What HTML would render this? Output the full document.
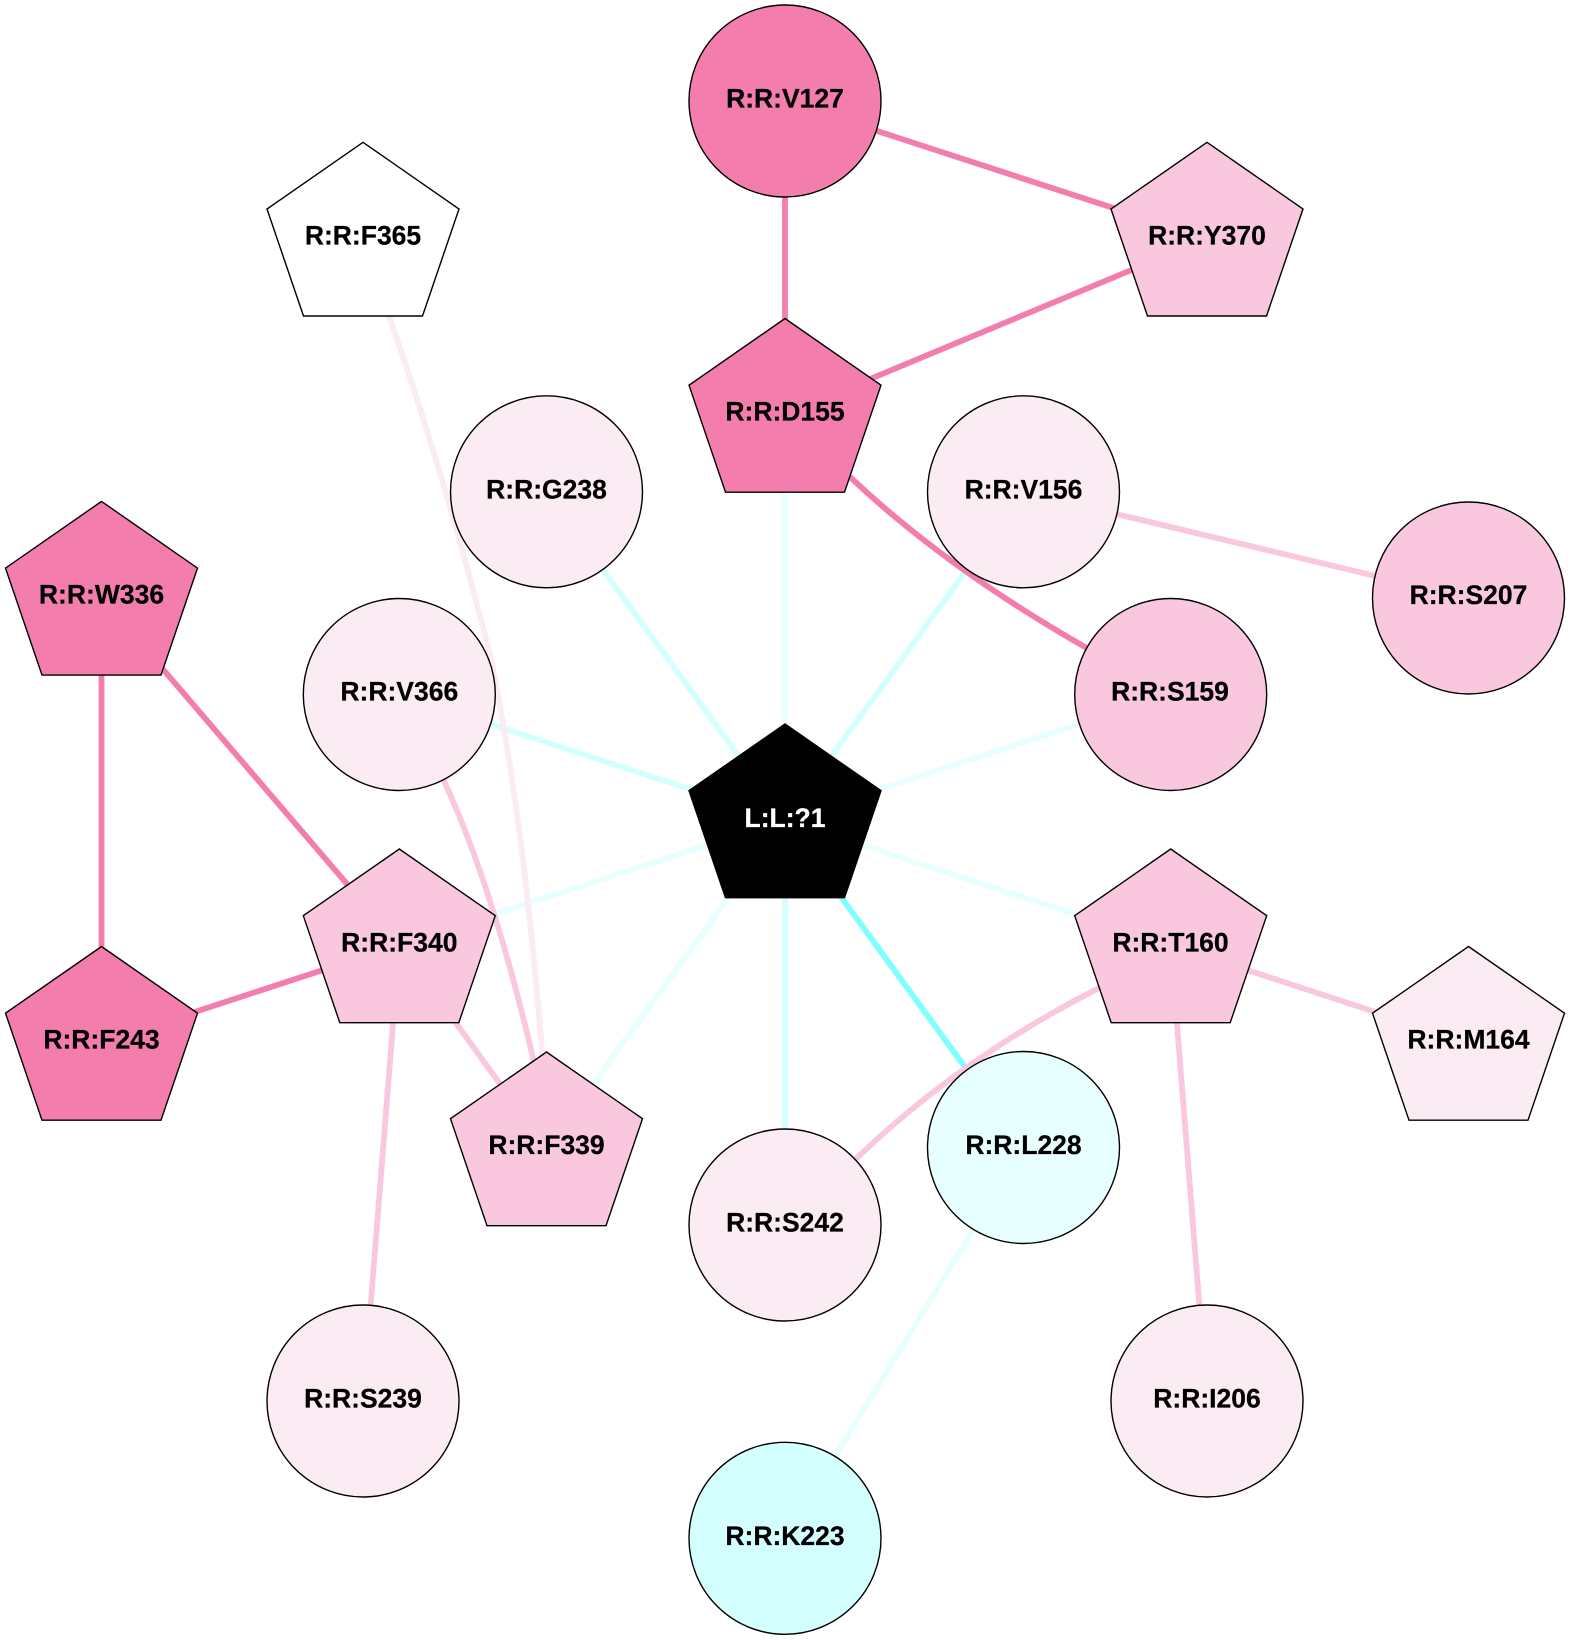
<!DOCTYPE html>
<html>
<head>
<meta charset="utf-8">
<style>
html,body{margin:0;padding:0;background:#fff;width:1570px;height:1640px;overflow:hidden}
svg{display:block}
text{font-family:"Liberation Sans",Arial,sans-serif;font-weight:bold;font-size:26.5px;text-anchor:middle;fill:#000;stroke:#000;stroke-width:.25}
.e{fill:none;stroke-width:5.8}
.n{stroke:#000;stroke-width:1.4}
.p1{stroke:#F37DAD}.p2{stroke:#F9C8DE}.p3{stroke:#FBEBF3}
.c0{stroke:#7FFFFF}.c1{stroke:#D4FFFF}.c2{stroke:#E8FFFF}
</style>
</head>
<body>
<svg width="1570" height="1640" viewBox="0 0 1570 1640" xmlns="http://www.w3.org/2000/svg">
<rect width="1570" height="1640" fill="#fff"/>
<g class="edges">
<path class="e c1" d="M785 820L546.5 491.8"/>
<path class="e c1" d="M785 820L1023.5 491.8"/>
<path class="e c2" d="M785 820L785 414.5"/>
<path class="e c1" d="M785 820L399.3 694.5"/>
<path class="e c2" d="M785 820L1170.7 694.5"/>
<path class="e c2" d="M785 820L399.3 945"/>
<path class="e c2" d="M785 820L1170.7 945"/>
<path class="e c2" d="M785 820L546.5 1148"/>
<path class="e c1" d="M785 820L785 1225"/>
<path class="e c0" d="M785 820L1023.5 1147.5"/>
<path class="e c2" d="M1023.5 1147.5L785 1538.3"/>
<path class="e p1" d="M785 101L785 414.5"/>
<path class="e p1" d="M785 101L1207 238.5"/>
<path class="e p1" d="M785 414.5L1207 238.5"/>
<path class="e p1" d="M830 460L850 477Q946.5 568 1085 647L1110 660"/>
<path class="e p1" d="M101.5 597.5L101.5 1042.5"/>
<path class="e p1" d="M101.5 597.5L399.3 945"/>
<path class="e p1" d="M101.5 1042.5L399.3 945"/>
<path class="e p2" d="M1023.5 491.8L1468.5 598.3"/>
<path class="e p2" d="M399.3 945L546.5 1148"/>
<path class="e p2" d="M399.3 945L363 1401"/>
<path class="e p2" d="M1170.7 945L1468.5 1042.5"/>
<path class="e p2" d="M1170.7 945L1207 1401"/>
<path class="e p2" d="M1120 975L1097 989Q957.7 1060.5 857 1158L840 1175"/>
<path class="e p2" d="M436 765L444 781Q493 887 533.5 1060L538 1080"/>
<path class="e p3" d="M382 300L390 319Q443.5 471 491 658.6Q523.5 819 542 1051L544 1075"/>
</g>
<g class="nodes">
<circle class="n" cx="785" cy="101" r="96" fill="#F37DAD"/>
<circle class="n" cx="546.5" cy="491.8" r="96" fill="#FBEBF3"/>
<circle class="n" cx="1023.5" cy="491.8" r="96" fill="#FBEBF3"/>
<circle class="n" cx="1468.5" cy="598" r="96" fill="#F9C8DE"/>
<circle class="n" cx="1170.7" cy="694.5" r="96" fill="#F9C8DE"/>
<circle class="n" cx="399.3" cy="694.5" r="96" fill="#FBEBF3"/>
<circle class="n" cx="785" cy="1225" r="96" fill="#FBEBF3"/>
<circle class="n" cx="1023.5" cy="1147.5" r="96" fill="#E8FFFF"/>
<circle class="n" cx="363" cy="1401" r="96" fill="#FBEBF3"/>
<circle class="n" cx="1207" cy="1401" r="96" fill="#FBEBF3"/>
<circle class="n" cx="785" cy="1538.3" r="96" fill="#D4FFFF"/>

<polygon class="n" fill="#FFFFFF" points="363,142.3 459,209 422.5,316 303.5,316 267,209"/>
<polygon class="n" fill="#F9C8DE" points="1207,142.3 1303,209 1266.5,316 1147.5,316 1111,209"/>
<polygon class="n" fill="#F37DAD" points="785,318.5 881,385.2 844.5,492.2 725.5,492.2 689,385.2"/>
<polygon class="n" fill="#F37DAD" points="101.5,501.4 197.5,568.1 161,675.1 42,675.1 5.5,568.1"/>
<polygon class="n" fill="#000000" points="785,724 881,790.7 844.5,897.7 725.5,897.7 689,790.7"/>
<polygon class="n" fill="#F9C8DE" points="399.3,849 495.3,915.7 458.8,1022.7 339.8,1022.7 303.3,915.7"/>
<polygon class="n" fill="#F9C8DE" points="1170.7,849 1266.7,915.7 1230.2,1022.7 1111.2,1022.7 1074.7,915.7"/>
<polygon class="n" fill="#F37DAD" points="101.5,946.5 197.5,1013.2 161,1120.2 42,1120.2 5.5,1013.2"/>
<polygon class="n" fill="#FBEBF3" points="1468.5,946.5 1564.5,1013.2 1528,1120.2 1409,1120.2 1372.5,1013.2"/>
<polygon class="n" fill="#F9C8DE" points="546.5,1052 642.5,1118.7 606,1225.7 487,1225.7 450.5,1118.7"/>
</g>
<g class="labels">
<text x="785" y="107.3">R:R:V127</text>
<text x="363" y="244.7">R:R:F365</text>
<text x="1207" y="244.7">R:R:Y370</text>
<text x="785" y="420.7">R:R:D155</text>
<text x="546.5" y="498.5">R:R:G238</text>
<text x="1023.5" y="498.5">R:R:V156</text>
<text x="101.5" y="603.7">R:R:W336</text>
<text x="1468.5" y="604.2">R:R:S207</text>
<text x="399.3" y="700.7">R:R:V366</text>
<text x="1170" y="700.7">R:R:S159</text>
<text x="785" y="827" style="fill:#fff;stroke:#fff">L:L:?1</text>
<text x="399.3" y="951.7">R:R:F340</text>
<text x="1170.5" y="951.7">R:R:T160</text>
<text x="101.5" y="1048.7">R:R:F243</text>
<text x="1468.5" y="1048.7">R:R:M164</text>
<text x="546.5" y="1154.2">R:R:F339</text>
<text x="1023.5" y="1154">R:R:L228</text>
<text x="785" y="1231.7">R:R:S242</text>
<text x="363" y="1407.5">R:R:S239</text>
<text x="1207" y="1407.5">R:R:I206</text>
<text x="785" y="1545">R:R:K223</text>
</g>
</svg>
</body>
</html>
